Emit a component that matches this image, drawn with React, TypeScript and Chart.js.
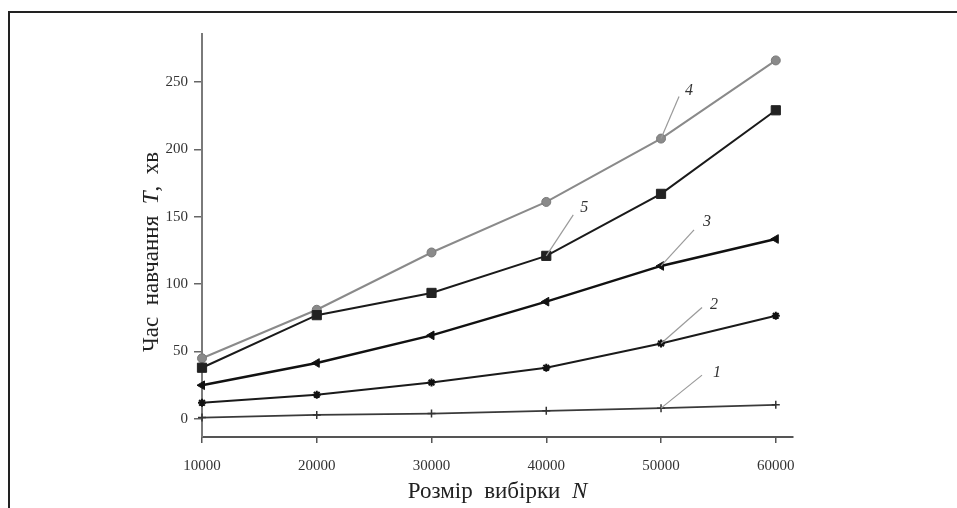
import React, { useEffect, useRef } from "react";
import { Chart, registerables } from "chart.js";

Chart.register(...registerables);

// ---- data ----
const sampleSizes = [10000, 20000, 30000, 40000, 50000, 60000];
const yTickValues = [0, 50, 100, 150, 200, 250];
const series1 = [1, 3, 4, 6, 8, 10.5];
const series2 = [12, 18, 27, 38, 56, 76.5];
const series3 = [25, 41.5, 62, 87, 113.5, 133.5];
const series4 = [45, 81, 123.5, 161, 208, 266];
const series5 = [38, 77, 93.5, 121, 167, 229];
const curveNames = ["1", "2", "3", "4", "5"];
const xTitleParts = ["Розмір  вибірки  ", "N"];
const yTitleParts = ["Час  навчання  ", "T", ",  хв"];

const SERIF = "'Liberation Serif', 'DejaVu Serif', serif";

const toPts = (vals: number[]) => sampleSizes.map((x, i) => ({ x, y: vals[i] }));

// leader-line annotations: dataset index, point index, line end offset, text offset
const leaders = [
  { ds: 0, idx: 4, lx: 41, ly: -33, tx: 56, ty: -35, text: curveNames[0] },
  { ds: 1, idx: 4, lx: 41, ly: -36, tx: 53, ty: -39, text: curveNames[1] },
  { ds: 2, idx: 4, lx: 33, ly: -36, tx: 46, ty: -44, text: curveNames[2] },
  { ds: 4, idx: 4, lx: 18, ly: -42, tx: 28, ty: -48, text: curveNames[3] },
  { ds: 3, idx: 3, lx: 27, ly: -41, tx: 38, ty: -48, text: curveNames[4] },
];

const decorPlugin = {
  id: "decor",
  beforeDraw(chart: any) {
    const ctx = chart.ctx;
    ctx.save();
    ctx.fillStyle = "#ffffff";
    ctx.fillRect(0, 0, chart.width, chart.height);
    // frame
    ctx.strokeStyle = "#222";
    ctx.lineWidth = 2;
    ctx.beginPath();
    ctx.moveTo(9, chart.height + 2);
    ctx.lineTo(9, 12);
    ctx.lineTo(chart.width + 2, 12);
    ctx.stroke();
    ctx.restore();
  },
  afterDatasetsDraw(chart: any) {
    const ctx = chart.ctx;
    ctx.save();
    // leaders
    leaders.forEach((l) => {
      const el = chart.getDatasetMeta(l.ds).data[l.idx];
      ctx.strokeStyle = "#9a9a9a";
      ctx.lineWidth = 1.2;
      ctx.beginPath();
      ctx.moveTo(el.x, el.y);
      ctx.lineTo(el.x + l.lx, el.y + l.ly);
      ctx.stroke();
      ctx.fillStyle = "#333";
      ctx.font = `italic 16px ${SERIF}`;
      ctx.textAlign = "center";
      ctx.textBaseline = "middle";
      ctx.fillText(l.text, el.x + l.tx, el.y + l.ty);
    });
    // x title
    const area = chart.chartArea;
    ctx.fillStyle = "#222";
    ctx.textBaseline = "middle";
    ctx.textAlign = "left";
    const fN = `23px ${SERIF}`;
    const fI = `italic 23px ${SERIF}`;
    ctx.font = fN;
    const w0 = ctx.measureText(xTitleParts[0]).width;
    ctx.font = fI;
    const w1 = ctx.measureText(xTitleParts[1]).width;
    const xc = (area.left + area.right) / 2;
    let x = xc - (w0 + w1) / 2;
    ctx.font = fN;
    ctx.fillText(xTitleParts[0], x, 492);
    ctx.font = fI;
    ctx.fillText(xTitleParts[1], x + w0, 492);
    // y title
    ctx.save();
    ctx.translate(152, 252);
    ctx.rotate(-Math.PI / 2);
    const widths = yTitleParts.map((p, i) => {
      ctx.font = i === 1 ? fI : fN;
      return ctx.measureText(p).width;
    });
    const total = widths.reduce((a, b) => a + b, 0);
    let yx = -total / 2;
    yTitleParts.forEach((p, i) => {
      ctx.font = i === 1 ? fI : fN;
      ctx.fillText(p, yx, 0);
      yx += widths[i];
    });
    ctx.restore();
    ctx.restore();
  },
};

export default function App() {
  const ref = useRef<HTMLCanvasElement | null>(null);
  useEffect(() => {
    if (!ref.current) return;
    const chart = new Chart(ref.current, {
      type: "line",
      data: {
        datasets: [
          {
            label: curveNames[0],
            data: toPts(series1),
            borderColor: "#3a3a3a",
            borderWidth: 1.8,
            pointStyle: "cross",
            pointRadius: 4,
            pointBorderWidth: 1.5,
            pointBorderColor: "#333",
            pointBackgroundColor: "#333",
            clip: false,
          },
          {
            label: curveNames[1],
            data: toPts(series2),
            borderColor: "#1a1a1a",
            borderWidth: 2,
            pointStyle: "star",
            pointRadius: 4,
            pointBorderWidth: 2,
            pointBorderColor: "#111",
            pointBackgroundColor: "#111",
            clip: false,
          },
          {
            label: curveNames[2],
            data: toPts(series3),
            borderColor: "#111",
            borderWidth: 2.4,
            pointStyle: "triangle",
            pointRotation: -90,
            pointRadius: 5,
            pointBorderWidth: 1,
            pointBorderColor: "#111",
            pointBackgroundColor: "#111",
            clip: false,
          },
          {
            label: curveNames[4],
            data: toPts(series5),
            borderColor: "#1a1a1a",
            borderWidth: 2,
            pointStyle: "rect",
            pointRadius: 6.5,
            pointBorderWidth: 1,
            pointBorderColor: "#222",
            pointBackgroundColor: "#222",
            clip: false,
          },
          {
            label: curveNames[3],
            data: toPts(series4),
            borderColor: "#8a8a8a",
            borderWidth: 2,
            pointStyle: "circle",
            pointRadius: 4.5,
            pointBorderWidth: 1,
            pointBorderColor: "#7a7a7a",
            pointBackgroundColor: "#8a8a8a",
            clip: false,
          },
        ],
      },
      options: {
        responsive: false,
        animation: false,
        layout: { padding: { left: 142, top: 34, right: 164, bottom: 31 } },
        plugins: {
          legend: { display: false },
          tooltip: { enabled: false },
        },
        scales: {
          x: {
            type: "linear",
            min: 10000,
            max: 61500,
            afterFit: (s: any) => {
              s.height = 40;
            },
            afterBuildTicks: (s: any) => {
              s.ticks = sampleSizes.map((v) => ({ value: v }));
            },
            border: { display: true, color: "#555", width: 2 },
            grid: {
              drawOnChartArea: false,
              drawTicks: true,
              tickLength: 6,
              color: "#555",
              lineWidth: 1.5,
            },
            ticks: {
              padding: 14,
              color: "#333",
              font: { family: SERIF, size: 15 },
              maxRotation: 0,
              callback: (v: any) => String(v),
            },
          },
          y: {
            type: "linear",
            min: -13.4,
            max: 285.6,
            afterFit: (s: any) => {
              s.width = 60;
            },
            afterBuildTicks: (s: any) => {
              s.ticks = yTickValues.map((v) => ({ value: v }));
            },
            border: { display: true, color: "#7a7a7a", width: 2 },
            grid: {
              drawOnChartArea: false,
              drawTicks: true,
              tickLength: 8,
              color: "#666",
              lineWidth: 1.5,
            },
            ticks: {
              padding: 6,
              color: "#333",
              font: { family: SERIF, size: 15 },
              callback: (v: any) => String(v),
            },
          },
        },
      },
      plugins: [decorPlugin],
    } as any);
    return () => chart.destroy();
  }, []);
  return (
    <div style={{ position: "fixed", left: 0, top: 0, width: 957, height: 508, background: "#fff" }}>
      <canvas ref={ref} width={957} height={508} style={{ display: "block" }} />
    </div>
  );
}
